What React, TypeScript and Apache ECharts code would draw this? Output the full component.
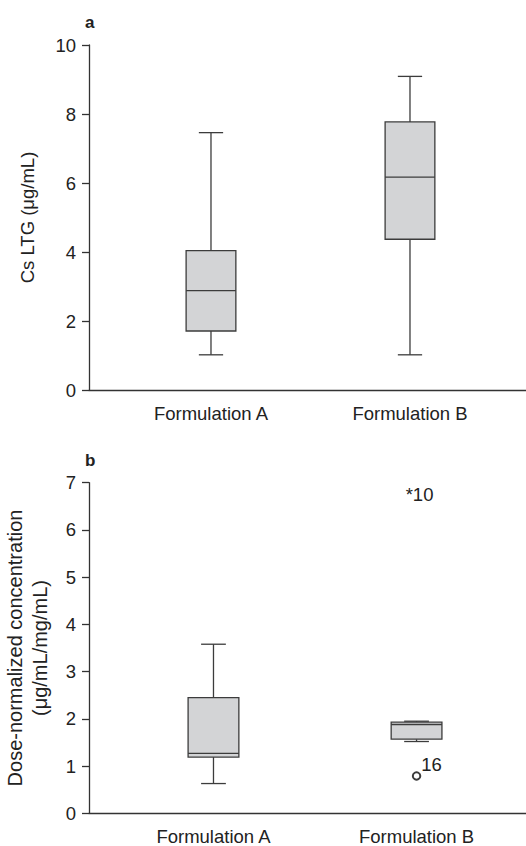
import React, { useEffect, useRef } from 'react';
import * as echarts from 'echarts';

const categories = ['Formulation A', 'Formulation B'];
// box statistics per category: [min, Q1, median, Q3, max]
const panelABoxes = [
  [1.02, 1.71, 2.88, 4.04, 7.46],
  [1.02, 4.37, 6.17, 7.77, 9.09],
];
const panelBBoxes = [
  [0.63, 1.19, 1.27, 2.45, 3.58],
  [1.52, 1.57, 1.88, 1.93, 1.95],
];
// outliers: [category position, value, label]
const panelBOutliers = [[2, 0.79, '16']];
const panelBExtremes = [[2, 6.76, '*10']];
const panelATicks = { min: 0, max: 10, interval: 2 };
const panelBTicks = { min: 0, max: 7, interval: 1 };
const panelATitle = 'Cs LTG (μg/mL)';
const panelBTitle = 'Dose-normalized concentration\n(μg/mL/mg/mL)';

const FONT = 'Liberation Sans, Arial, sans-serif';
const FS = 18.5;
const TXT = '#222';
const AX = '#333';

const renderBox = (params: any, api: any) => {
  const x = api.value(0);
  const lo = api.coord([x, api.value(1)]);
  const q1 = api.coord([x, api.value(2)]);
  const md = api.coord([x, api.value(3)]);
  const q3 = api.coord([x, api.value(4)]);
  const hi = api.coord([x, api.value(5)]);
  const bw = api.size([0.25, 0])[0];
  const cw = api.size([0.122, 0])[0];
  const cx = lo[0];
  const st = { stroke: '#3c3c3c', lineWidth: 1.3, fill: 'none' };
  return {
    type: 'group',
    children: [
      { type: 'line', shape: { x1: cx, y1: hi[1], x2: cx, y2: q3[1] }, style: st },
      { type: 'line', shape: { x1: cx, y1: lo[1], x2: cx, y2: q1[1] }, style: st },
      { type: 'line', shape: { x1: cx - cw / 2, y1: hi[1], x2: cx + cw / 2, y2: hi[1] }, style: st },
      { type: 'line', shape: { x1: cx - cw / 2, y1: lo[1], x2: cx + cw / 2, y2: lo[1] }, style: st },
      {
        type: 'rect',
        shape: { x: cx - bw / 2, y: q3[1], width: bw, height: q1[1] - q3[1] },
        style: { fill: '#d3d4d6', stroke: '#3c3c3c', lineWidth: 1.3 },
      },
      { type: 'line', shape: { x1: cx - bw / 2, y1: md[1], x2: cx + bw / 2, y2: md[1] }, style: st },
    ],
  };
};

const boxData = (boxes: number[][]) => boxes.map((b, i) => [i + 1, ...b]);

const xAxisFor = (gridIndex: number, min: number, max: number) => ({
  type: 'value',
  gridIndex,
  min,
  max,
  axisLine: { show: true, lineStyle: { color: AX, width: 1.3 } },
  axisTick: { show: false },
  splitLine: { show: false },
  axisLabel: {
    customValues: [1, 2],
    formatter: (v: number) => categories[Math.round(v) - 1] ?? '',
    color: TXT,
    fontSize: FS,
    fontFamily: FONT,
    margin: 14,
  },
});

const yAxisFor = (gridIndex: number, t: any, name: string, nameGap: number, fontSize: number, lineHeight: number) => ({
  type: 'value',
  gridIndex,
  min: t.min,
  max: t.max,
  interval: t.interval,
  name,
  nameLocation: 'middle',
  nameGap,
  nameRotate: 90,
  nameTextStyle: { color: TXT, fontSize, fontFamily: FONT, lineHeight },
  axisLine: { show: true, lineStyle: { color: AX, width: 1.3 } },
  axisTick: { show: true, length: 7, inside: false, lineStyle: { color: AX, width: 1.3 } },
  splitLine: { show: false },
  axisLabel: { color: TXT, fontSize: FS, fontFamily: FONT, margin: 13 },
});

export default function App() {
  const ref = useRef<HTMLDivElement>(null);
  useEffect(() => {
    if (!ref.current) return;
    const chart = echarts.init(ref.current, null, { renderer: 'svg' });
    chart.setOption({
      animation: false,
      backgroundColor: '#fff',
      textStyle: { fontFamily: FONT },
      grid: [
        { left: 89, top: 45, width: 437, height: 345, outerBoundsMode: 'none', containLabel: false },
        { left: 89, top: 482.7, width: 437, height: 330.6, outerBoundsMode: 'none', containLabel: false },
      ],
      xAxis: [xAxisFor(0, 0.387, 2.583), xAxisFor(1, 0.387, 2.539)],
      yAxis: [
        yAxisFor(0, panelATicks, panelATitle, 52, FS, 20),
        yAxisFor(1, panelBTicks, panelBTitle, 37, 20, 25),
      ],
      graphic: [
        { type: 'text', left: 85, top: 14, style: { text: 'a', fontSize: 17, fontWeight: 'bold', fill: TXT, fontFamily: FONT } },
        { type: 'text', left: 85, top: 452, style: { text: 'b', fontSize: 17, fontWeight: 'bold', fill: TXT, fontFamily: FONT } },
      ],
      series: [
        {
          type: 'custom',
          xAxisIndex: 0,
          yAxisIndex: 0,
          renderItem: renderBox,
          data: boxData(panelABoxes),
        },
        {
          type: 'custom',
          xAxisIndex: 1,
          yAxisIndex: 1,
          renderItem: renderBox,
          data: boxData(panelBBoxes),
        },
        {
          type: 'scatter',
          xAxisIndex: 1,
          yAxisIndex: 1,
          symbol: 'emptyCircle',
          symbolSize: 7.5,
          itemStyle: { color: '#3c3c3c', borderColor: '#3c3c3c', borderWidth: 0.9, opacity: 1 },
          emphasis: { disabled: true },
          label: {
            show: true,
            position: 'right',
            distance: 0,
            offset: [0, -11],
            formatter: (p: any) => p.data[2],
            color: TXT,
            fontSize: FS,
            fontFamily: FONT,
          },
          data: panelBOutliers,
        },
        {
          type: 'scatter',
          xAxisIndex: 1,
          yAxisIndex: 1,
          symbol: 'circle',
          symbolSize: 1,
          itemStyle: { color: 'transparent', opacity: 1 },
          emphasis: { disabled: true },
          label: {
            show: true,
            position: 'inside',
            offset: [3, 0],
            formatter: (p: any) => p.data[2],
            color: TXT,
            fontSize: FS,
            fontFamily: FONT,
          },
          data: panelBExtremes,
        },
      ],
    });
    return () => chart.dispose();
  }, []);
  return (
    <div
      ref={ref}
      style={{ position: 'fixed', left: 0, top: 0, width: 526, height: 846, background: '#fff' }}
    />
  );
}
